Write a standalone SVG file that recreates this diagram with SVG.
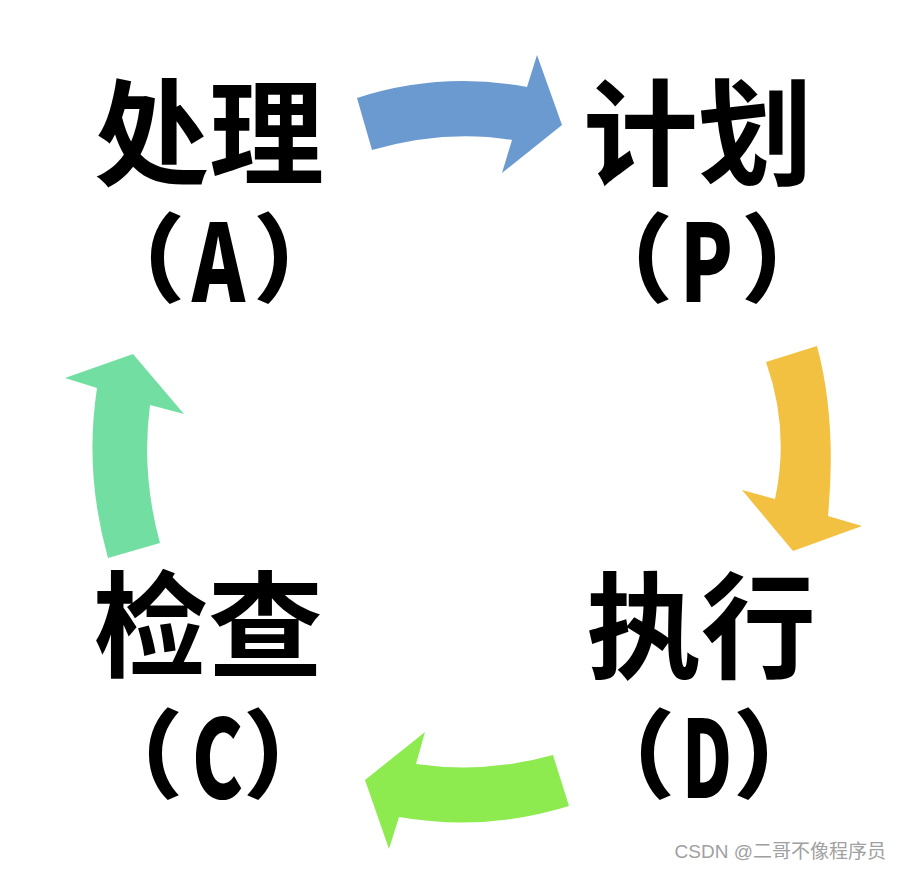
<svg xmlns="http://www.w3.org/2000/svg" width="902" height="870" viewBox="0 0 902 870">
<style>
.t{font-family:"Noto Sans CJK SC","Noto Sans",sans-serif;font-weight:700;font-size:115px;fill:#000;text-anchor:middle}
.p{font-family:"Noto Sans CJK SC","Noto Sans",sans-serif;font-weight:900;font-size:96px;fill:#000}
.l{font-family:"Noto Sans CJK SC","Liberation Sans",sans-serif;font-weight:900;font-size:108px;fill:#000}
.wm{font-family:"Liberation Sans","Noto Sans CJK SC",sans-serif;font-size:19px;fill:#a0a0a0;text-anchor:end}
</style>
<rect width="902" height="870" fill="#fff"/>
<g id="connectors">
<path id="arrow-a-p" d="M357,98 Q440,71 527,87 L537,55 L562,125 L502,173 L512,140 Q445,129 372,150 Z" fill="#6A9ACF"/>
<path id="arrow-p-d" d="M766,362 L817,346 Q837,420 828,516 L862,526 L793,551 L742,490 L775,499 Q790,430 766,362 Z" fill="#F3C141"/>
<path id="arrow-d-c" d="M553,755 Q485,774 416,764 L425,732 L365,780 L389,849 L399,817 Q485,832 569,806 Z" fill="#8DEB4F"/>
<path id="arrow-c-a" d="M108,558 L160,543 Q141,474 150,405 L184,414 L133,354 L65,378 L97,388 Q84,473 108,558 Z" fill="#73DEA1"/>
</g>
<g id="node-A">
<text class="t" x="209" y="176">处理</text>
<text><tspan class="p" x="89" y="294">（</tspan><tspan class="l" x="192" y="302" textLength="53" lengthAdjust="spacingAndGlyphs">A</tspan><tspan class="p" x="253" y="294">）</tspan></text>
</g>
<g id="node-P">
<text class="t" x="698" y="176">计划</text>
<text><tspan class="p" x="577" y="294">（</tspan><tspan class="l" x="680" y="302" textLength="53" lengthAdjust="spacingAndGlyphs">P</tspan><tspan class="p" x="741" y="294">）</tspan></text>
</g>
<g id="node-D">
<text class="t" x="701" y="669">执行</text>
<text><tspan class="p" x="579" y="790">（</tspan><tspan class="l" x="682" y="798" textLength="50" lengthAdjust="spacingAndGlyphs">D</tspan><tspan class="p" x="733" y="790">）</tspan></text>
</g>
<g id="node-C">
<text class="t" x="208" y="668">检查</text>
<text><tspan class="p" x="87" y="790">（</tspan><tspan class="l" x="192" y="798" textLength="51" lengthAdjust="spacingAndGlyphs">C</tspan><tspan class="p" x="243" y="790">）</tspan></text>
</g>
<text class="wm" x="886" y="858">CSDN @二哥不像程序员</text>
</svg>
